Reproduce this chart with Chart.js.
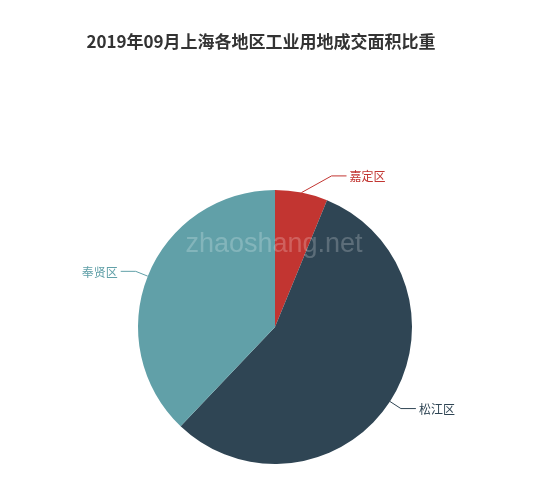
<!DOCTYPE html>
<html>
<head>
<meta charset="utf-8">
<script src="https://cdn.jsdelivr.net/npm/chart.js@4/dist/chart.umd.min.js"></script>
<style>
  html, body { margin: 0; padding: 0; background: #fff; }
  #wrap { width: 550px; height: 490px; }
</style>
</head>
<body>
<div id="wrap"><canvas id="myChart" width="550" height="490"></canvas></div>
<script>
// DATA (SHARE OF AREA, %)
const title = '2019年09月上海各地区工业用地成交面积比重';
const districts = ['嘉定区', '松江区', '奉贤区'];
const shares = [6.2, 55.9, 37.9];
const sliceColors = ['#c23531', '#2f4554', '#61a0a8'];

// TITLE + WATERMARK
const decorPlugin = {
  id: 'decor',
  afterDraw(chart) {
    const ctx = chart.ctx;
    ctx.save();
    ctx.fillStyle = '#333';
    ctx.font = 'bold 17px "Noto Sans CJK SC", sans-serif';
    ctx.textAlign = 'center';
    ctx.textBaseline = 'middle';
    ctx.fillText(title, 261, 42);

    ctx.fillStyle = 'rgba(255,255,255,0.22)';
    ctx.font = '27px "Liberation Sans", Arial, sans-serif';
    ctx.textBaseline = 'alphabetic';
    ctx.fillText('zhaoshang.net', 274, 252);
    ctx.restore();
  }
};

// OUTSIDE LABELS WITH LEADER LINES
const labelPlugin = {
  id: 'pieLabels',
  afterDatasetsDraw(chart) {
    const ctx = chart.ctx;
    const meta = chart.getDatasetMeta(0);
    ctx.save();
    ctx.font = '12px "Noto Sans CJK SC", sans-serif';
    ctx.textBaseline = 'middle';
    ctx.lineWidth = 1;
    meta.data.forEach((arc, i) => {
      const mid = (arc.startAngle + arc.endAngle) / 2;
      const r = arc.outerRadius;
      const cos = Math.cos(mid), sin = Math.sin(mid);
      const side = cos >= 0 ? 1 : -1;
      const sx = arc.x + r * cos, sy = arc.y + r * sin;
      let len = 13;
      if (Math.abs(cos) < 0.3) len = 17;
      let ex = arc.x + (r + len) * cos, ey = arc.y + (r + len) * sin;
      if (Math.abs(cos) < 0.3) ex = sx + side * 30;
      const hx = ex + side * 15;
      ctx.strokeStyle = sliceColors[i];
      ctx.beginPath();
      ctx.moveTo(sx, sy);
      ctx.lineTo(ex, ey);
      ctx.lineTo(hx, ey);
      ctx.stroke();
      ctx.fillStyle = sliceColors[i];
      ctx.textAlign = side > 0 ? 'left' : 'right';
      ctx.fillText(districts[i], hx + side * 3, ey + 1);
    });
    ctx.restore();
  }
};

const ctx = document.getElementById('myChart').getContext('2d');
const myChart = new Chart(ctx, {
  type: 'pie',
  data: {
    labels: districts,
    datasets: [{
      data: shares,
      backgroundColor: sliceColors,
      borderWidth: 0
    }]
  },
  options: {
    responsive: false,
    animation: false,
    layout: { padding: { top: 190, bottom: 26, left: 0, right: 0 } },
    plugins: {
      legend: { display: false },
      tooltip: { enabled: false },
      title: { display: false }
    }
  },
  plugins: [labelPlugin, decorPlugin]
});
</script>
</body>
</html>
